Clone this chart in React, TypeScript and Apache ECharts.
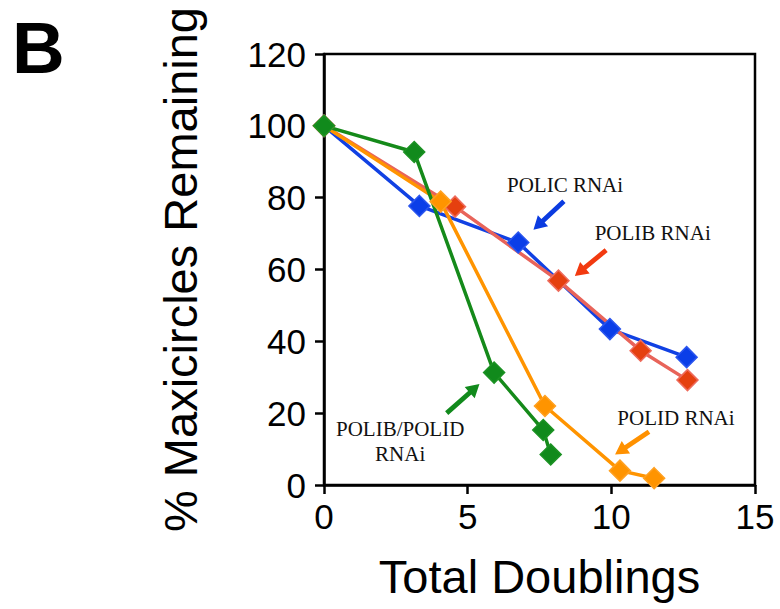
import React, { useEffect, useRef } from "react";
import * as echarts from "echarts";

const xTickLabels = ["0", "5", "10", "15"];
const yTickLabels = ["0", "20", "40", "60", "80", "100", "120"];

const policX = [0, 3.32, 6.76, 9.95, 12.62];
const policY = [100, 77.7, 67.5, 43.4, 35.6];
const polibX = [0, 4.56, 8.16, 11.02, 12.65];
const polibY = [100, 77.5, 56.9, 37.4, 29.2];
const polidX = [0, 4.06, 7.69, 10.3, 11.49];
const polidY = [100, 78.9, 22.0, 4.0, 1.9];
const dblX = [0, 3.14, 5.92, 7.63, 7.89];
const dblY = [100, 92.7, 31.3, 15.3, 8.5];

const seriesNames = ["POLIC RNAi", "POLIB RNAi", "POLID RNAi", "POLIB/POLID RNAi"];

// annotation labels and arrows in data coordinates
const labelTexts = ["POLIC RNAi", "POLIB RNAi", "POLID RNAi", "POLIB/POLID\nRNAi"];
const labelPos: [number, number][] = [
  [8.39, 83.5],
  [11.44, 70.2],
  [12.25, 18.7],
  [2.65, 12.0],
];
const arrowTail: [number, number][] = [
  [8.35, 79.0],
  [9.82, 65.4],
  [11.31, 14.8],
  [4.27, 20.0],
];
const arrowTip: [number, number][] = [
  [7.29, 71.1],
  [8.73, 58.2],
  [10.13, 8.5],
  [5.41, 28.1],
];
const arrowColors = ["#0b3be0", "#f23a10", "#ff9100", "#118a1c"];

const zip = (xs: number[], ys: number[]) => xs.map((x, i) => [x, ys[i]]);

export default function App() {
  const ref = useRef<HTMLDivElement>(null);
  useEffect(() => {
    if (!ref.current) return;
    const chart = echarts.init(ref.current, undefined, { renderer: "svg" });
    const sans = "'Liberation Sans', Arial, Helvetica, sans-serif";
    const mk = (name: string, data: number[][], line: string, fill: string, border: string) => ({
      name,
      type: "line",
      data,
      symbol: "diamond",
      symbolSize: 21,
      showSymbol: true,
      lineStyle: { color: line, width: 3.5 },
      itemStyle: { color: fill, borderColor: border, borderWidth: 1.5 },
      z: 3,
    });
    chart.setOption({
      animation: false,
      grid: {
        left: 324,
        right: 25,
        top: 54,
        bottom: 124,
        show: true,
        borderColor: "#000",
        borderWidth: 2.5,
        backgroundColor: "transparent",
      },
      xAxis: {
        type: "value",
        min: 0,
        max: 15,
        interval: 5,
        name: "Total Doublings",
        nameLocation: "middle",
        nameGap: 68,
        nameTextStyle: { fontFamily: sans, fontSize: 47, color: "#000" },
        axisLine: { show: true, onZero: false, lineStyle: { color: "#000", width: 2.5 } },
        axisTick: { show: true, length: 9, lineStyle: { color: "#000", width: 2.5 } },
        axisLabel: {
          fontFamily: sans,
          fontSize: 35,
          color: "#000",
          margin: 14,
          formatter: (v: number) => xTickLabels[Math.round(v / 5)] ?? String(v),
        },
        splitLine: { show: false },
      },
      yAxis: {
        type: "value",
        min: 0,
        max: 120,
        interval: 20,
        name: "% Maxicircles Remaining",
        nameLocation: "middle",
        nameGap: 120,
        nameTextStyle: { fontFamily: sans, fontSize: 47, color: "#000" },
        axisLine: { show: true, lineStyle: { color: "#000", width: 2.5 } },
        axisTick: { show: true, length: 9, lineStyle: { color: "#000", width: 2.5 } },
        axisLabel: {
          fontFamily: sans,
          fontSize: 35,
          color: "#000",
          margin: 18,
          formatter: (v: number) => yTickLabels[Math.round(v / 20)] ?? String(v),
        },
        splitLine: { show: false },
      },
      series: [
        mk(seriesNames[0], zip(policX, policY), "#1141e3", "#0b3ee8", "#2a55ee"),
        mk(seriesNames[1], zip(polibX, polibY), "#e8645a", "#e5400f", "#ee6b5c"),
        mk(seriesNames[2], zip(polidX, polidY), "#ff9400", "#ff9400", "#ffa020"),
        mk(seriesNames[3], zip(dblX, dblY), "#158a1a", "#118a1c", "#1c9224"),
      ],
    });

    const graphics: any[] = [
      {
        type: "text",
        left: 12,
        top: 11,
        style: { text: "B", fontFamily: sans, fontSize: 73, fontWeight: "bold", fill: "#000" },
      },
    ];
    labelTexts.forEach((t, i) => {
      const p = chart.convertToPixel({ gridIndex: 0 }, labelPos[i]) as number[];
      graphics.push({
        type: "text",
        x: p[0],
        y: p[1],
        style: {
          text: t,
          fontFamily: "'Liberation Serif', 'Times New Roman', serif",
          fontSize: 21,
          lineHeight: 25,
          fill: "#111",
          align: "center",
          verticalAlign: "middle",
        },
        z: 10,
      });
      const a = chart.convertToPixel({ gridIndex: 0 }, arrowTail[i]) as number[];
      const b = chart.convertToPixel({ gridIndex: 0 }, arrowTip[i]) as number[];
      const dx = b[0] - a[0];
      const dy = b[1] - a[1];
      const len = Math.sqrt(dx * dx + dy * dy);
      const ux = dx / len;
      const uy = dy / len;
      const nx = -uy;
      const ny = ux;
      const w = 2.4;
      const hw = 7.5;
      const hl = 13;
      const bx = b[0] - ux * hl;
      const by = b[1] - uy * hl;
      graphics.push({
        type: "polygon",
        shape: {
          points: [
            [a[0] + nx * w, a[1] + ny * w],
            [bx + nx * w, by + ny * w],
            [bx + nx * hw, by + ny * hw],
            [b[0], b[1]],
            [bx - nx * hw, by - ny * hw],
            [bx - nx * w, by - ny * w],
            [a[0] - nx * w, a[1] - ny * w],
          ],
        },
        style: { fill: arrowColors[i] },
        z: 10,
      });
    });
    chart.setOption({ graphic: graphics });

    return () => chart.dispose();
  }, []);
  return (
    <div
      ref={ref}
      style={{ position: "fixed", left: 0, top: 0, width: 780, height: 609, background: "#fff" }}
    />
  );
}
